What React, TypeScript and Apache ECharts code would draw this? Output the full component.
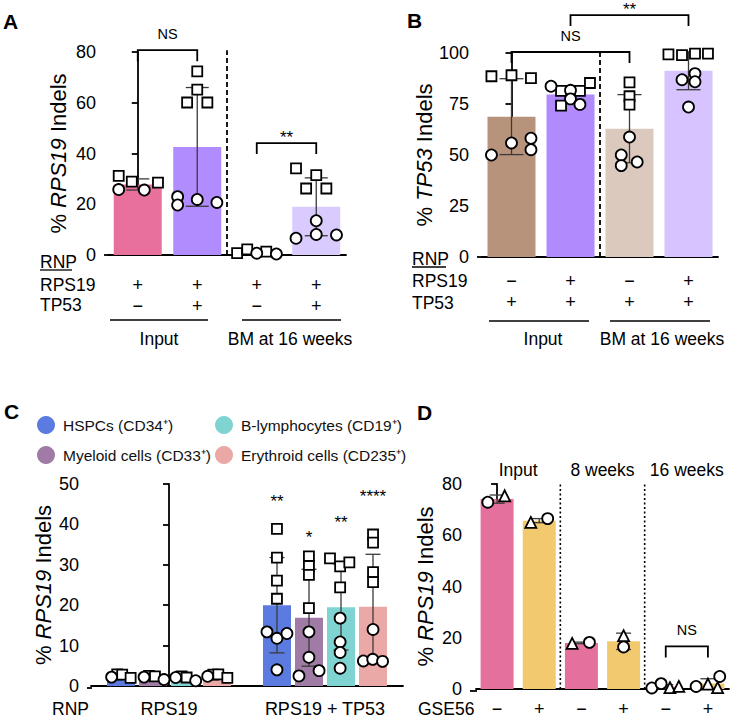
import React, { useEffect, useRef } from "react";
import * as echarts from "echarts";

const FONT = "'Liberation Sans', Arial, Helvetica, sans-serif";
const INK = "#000";

// ---------------- Panel A ----------------
const aCategories = ["Input RPS19", "Input RPS19+TP53", "BM RPS19", "BM RPS19+TP53"];
const aRps19Row = ["+", "+", "+", "+"];
const aTp53Row = ["−", "+", "−", "+"];
const aMeans = [27.8, 42.6, 1.1, 19.0];
const aSD = [2.2, 23.4, 0.7, 11.4];
const aColors = ["#E8709D", "#B08CFE", "#F4C3D6", "#DACBFF"];
// [category, jitter, value]
const aSquares = [
  [0, -0.32, 31.2], [0, -0.1, 28.9], [0, 0.34, 28.5],
  [1, 0, 72.4], [1, 0, 65.2], [1, -0.17, 60.1], [1, 0.17, 60.1],
  [2, -0.33, 0.7], [2, -0.16, 2.2], [2, 0.16, 1.3],
  [3, -0.34, 34.1], [3, 0, 31.5], [3, -0.17, 26.2], [3, 0.17, 26.2],
];
const aCircles = [
  [0, -0.32, 25.8], [0, 0.11, 25.6],
  [1, -0.33, 23.0], [1, -0.33, 19.7], [1, 0, 21.9], [1, 0.33, 20.7],
  [2, 0, 0.7], [2, 0.33, 0.4],
  [3, 0, 13.5], [3, -0.34, 6.6], [3, 0, 8.1], [3, 0.34, 7.9],
];
const aBrackets = [
  { from: 0, to: 1, y: 80.7, label: "NS" },
  { from: 2, to: 3, y: 44.1, label: "**" },
];
const aSeparators = [1.5];
const aSeparatorTop = 80.7;

// ---------------- Panel B ----------------
const bCategories = ["Input TP53", "Input RPS19+TP53", "BM TP53", "BM RPS19+TP53"];
const bRps19Row = ["−", "+", "−", "+"];
const bTp53Row = ["+", "+", "+", "+"];
const bMeans = [68.8, 79.7, 62.9, 91.3];
const bSD = [18.6, 4.0, 16.7, 9.3];
const bColors = ["#B8937B", "#B18BFE", "#DCC9BD", "#D6C3FF"];
const bSquares = [
  [0, -0.34, 88.6], [0, 0, 89.1], [0, 0.33, 87.7],
  [1, -0.16, 81.4], [1, 0.16, 81.4], [1, 0.33, 85.3], [1, -0.16, 74.2],
  [2, 0, 85.6], [2, 0, 78.8], [2, 0, 74.7],
  [3, -0.34, 99.3], [3, -0.11, 99.0], [3, 0.11, 99.7], [3, 0.33, 99.7],
];
const bCircles = [
  [0, 0, 55.9], [0, 0.33, 58.2], [0, 0.33, 52.6], [0, -0.34, 50.0],
  [1, -0.33, 83.7], [1, 0, 81.7], [1, 0, 77.5], [1, 0.16, 74.8],
  [2, 0, 58.8], [2, -0.14, 50.0], [2, -0.14, 44.8], [2, 0.13, 46.6],
  [3, -0.11, 86.9], [3, 0.11, 89.9], [3, 0.11, 85.9], [3, 0, 73.5],
];
const bBrackets = [
  { from: 0, to: 2, y: 100.5, label: "NS" },
  { from: 1, to: 3, y: 118.6, label: "**" },
];
const bSeparators = [1.5];
const bSeparatorTop = 100.5;

// ---------------- Panel C ----------------
const cCategories = ["RPS19", "RPS19 + TP53"];
const cCellTypes = ["HSPCs (CD34⁺)", "Myeloid cells (CD33⁺)", "B-lymphocytes (CD19⁺)", "Erythroid cells (CD235⁺)"];
const cColors = ["#5B7BE0", "#A07BA6", "#7FD4D2", "#EAA9A6"];
const cMeans = [[2.1, 20.0], [2.0, 16.9], [1.8, 19.5], [2.2, 19.6]];
const cSD = [[0.4, 11.8], [0.4, 12.0], [0.4, 10.6], [0.4, 13.0]];
const cStars = ["**", "*", "**", "****"];
const cStarY = [45.6, 36.8, 40.4, 46.8];
// [category, offset from group centre, value]
const cSquares = [
  [[0, -0.332, 2.9], [0, -0.3, 2.8], [0, -0.246, 2.0], [1, -0.308, 38.9], [1, -0.308, 31.8], [1, -0.308, 26.1], [1, -0.308, 21.6]],
  [[0, -0.128, 2.5], [0, -0.09, 2.4], [1, -0.103, 32.1], [1, -0.103, 29.7], [1, -0.103, 27.5], [1, -0.103, 19.3]],
  [[0, 0.081, 2.4], [0, 0.113, 2.1], [1, 0.032, 31.6], [1, 0.097, 29.6], [1, 0.156, 30.6], [1, 0.097, 24.4]],
  [[0, 0.284, 2.8], [0, 0.316, 2.9], [0, 0.374, 2.0], [1, 0.308, 37.5], [1, 0.308, 35.5], [1, 0.308, 28.2], [1, 0.308, 25.7]],
];
const cCircles = [
  [[0, -0.368, 2.2], [1, -0.372, 13.4], [1, -0.308, 11.8], [1, -0.244, 13.0], [1, -0.308, 4.0]],
  [[0, -0.16, 2.2], [0, -0.032, 1.6], [1, -0.103, 13.4], [1, -0.103, 7.1], [1, -0.167, 2.5], [1, -0.038, 3.8]],
  [[0, 0.043, 2.1], [0, 0.171, 1.3], [1, 0.097, 16.8], [1, 0.097, 10.9], [1, 0.097, 8.3], [1, 0.097, 4.4]],
  [[0, 0.248, 2.4], [1, 0.308, 14.0], [1, 0.246, 6.2], [1, 0.306, 6.6], [1, 0.369, 6.1]],
];

// ---------------- Panel D ----------------
const dCategories = ["Input −", "Input +", "8 weeks −", "8 weeks +", "16 weeks −", "16 weeks +"];
const dGse56Row = ["−", "+", "−", "+", "−", "+"];
const dHeaders = ["Input", "8 weeks", "16 weeks"];
const dMeans = [74.1, 65.7, 18.0, 18.6, 0.9, 2.1];
const dSD = [1.6, 0.8, 0.3, 3.2, 0.8, 1.9];
const dColors = ["#E4719D", "#F2C96E", "#E4719D", "#F2C96E", "#E4719D", "#F2C96E"];
const dCircles = [
  [0, -0.22, 72.9], [1, 0.2, 66.5], [2, 0.19, 18.2], [3, 0, 16.4],
  [4, -0.33, 0.4], [4, -0.11, 2.1], [5, -0.28, 1.0], [5, 0.28, 4.9],
];
const dTriangles = [
  [0, 0.18, 75.4], [1, -0.2, 65.0], [2, -0.22, 17.8], [3, 0, 20.8],
  [4, 0.1, 0.5], [4, 0.31, 1.0], [5, 0, 1.9], [5, 0.23, 0.5],
];
const dBrackets = [{ from: 4, to: 5, y: 16.6, label: "NS" }];
const dSeparators = [1.5, 3.5];
const dSeparatorTop = 80;
const dHeaderY = 85.4;

const C_BAR_W = 28;
const C_BAR_GAP = 4;

const richName = {
  n: { fontSize: 22, fontFamily: FONT, color: INK },
  i: { fontSize: 22, fontFamily: FONT, color: INK, fontStyle: "italic" },
};

function yAxis(g: number, max: number, interval: number, gene: string, offset: number, nameGap: number) {
  return {
    type: "value", gridIndex: g, min: 0, max, interval, offset,
    axisLine: { show: true, lineStyle: { color: INK, width: 1.8 } },
    axisTick: { show: true, length: 6, lineStyle: { color: INK, width: 1.8 } },
    axisLabel: { color: INK, fontSize: 18, fontFamily: FONT, margin: 8 },
    splitLine: { show: false },
    name: `{n|% }{i|${gene}}{n| Indels}`,
    nameLocation: "middle", nameGap, nameRotate: 90,
    nameTextStyle: { fontSize: 22, fontFamily: FONT, color: INK, rich: richName },
  };
}

function xCat(g: number, data: string[], formatter: any, margin: number, tickLen: number) {
  return {
    type: "category", gridIndex: g, data, boundaryGap: true,
    axisLine: { lineStyle: { color: INK, width: 1.8 } },
    axisTick: { alignWithLabel: true, length: tickLen, lineStyle: { color: INK, width: 1.8 } },
    axisLabel: { interval: 0, formatter, color: INK, fontSize: 18, lineHeight: 21, fontFamily: FONT, margin },
    splitLine: { show: false },
  };
}

function xVal(g: number, n: number) {
  return { type: "value", gridIndex: g, min: -0.5, max: n - 0.5, show: false };
}

function pts(xIdx: number, yIdx: number, arr: number[][], symbol: string, size: number) {
  return {
    type: "scatter", xAxisIndex: xIdx, yAxisIndex: yIdx, symbol, symbolSize: size,
    data: arr.map(([c, j, v]) => [c + j, v]),
    itemStyle: { color: "#fff", borderColor: INK, borderWidth: 1.8, opacity: 1 },
    z: 5, silent: true,
  };
}

function errBars(xIdx: number, yIdx: number, means: number[], sds: number[], capHalf: number, pxOffset = 0) {
  return {
    type: "custom", xAxisIndex: xIdx, yAxisIndex: yIdx, z: 4, silent: true, clip: false,
    data: means.map((m, i) => [i, Math.max(0, m - sds[i]), m + sds[i]]),
    renderItem: (params: any, api: any) => {
      const x = api.value(0);
      const hi = api.coord([x, api.value(2)]);
      const lo = api.coord([x, api.value(1)]);
      const cx = hi[0] + pxOffset;
      const st = { stroke: "#3a3a3a", lineWidth: 1.3 };
      return {
        type: "group",
        children: [
          { type: "line", shape: { x1: cx, y1: hi[1], x2: cx, y2: lo[1] }, style: st },
          { type: "line", shape: { x1: cx - capHalf, y1: hi[1], x2: cx + capHalf, y2: hi[1] }, style: st },
          { type: "line", shape: { x1: cx - capHalf, y1: lo[1], x2: cx + capHalf, y2: lo[1] }, style: st },
        ],
      };
    },
  };
}

function brackets(xIdx: number, yIdx: number, list: { from: number; to: number; y: number; label: string }[], drop: number) {
  return {
    type: "custom", xAxisIndex: xIdx, yAxisIndex: yIdx, z: 6, silent: true, clip: false,
    data: list.map((b) => [b.from, b.to, b.y]),
    encode: { x: [0, 1], y: 2 },
    renderItem: (params: any, api: any) => {
      const b = list[params.dataIndex];
      const p1 = api.coord([api.value(0), api.value(2)]);
      const p2 = api.coord([api.value(1), api.value(2)]);
      const star = b.label.startsWith("*");
      return {
        type: "group",
        children: [
          {
            type: "polyline",
            shape: { points: [[p1[0], p1[1] + drop], [p1[0], p1[1]], [p2[0], p2[1]], [p2[0], p2[1] + drop]] },
            style: { stroke: INK, lineWidth: 1.8, fill: null },
          },
          {
            type: "text", x: (p1[0] + p2[0]) / 2, y: p1[1] - (star ? 6 : 16),
            style: { text: b.label, fill: INK, fontSize: star ? 17 : 14.5, fontFamily: FONT, align: "center", verticalAlign: "middle" },
          },
        ],
      };
    },
  };
}

function separators(xIdx: number, yIdx: number, xs: number[], top: number, dash: number[], width: number) {
  return {
    type: "custom", xAxisIndex: xIdx, yAxisIndex: yIdx, z: 3, silent: true, clip: false,
    data: xs.map((x) => [x, top]),
    renderItem: (params: any, api: any) => {
      const a = api.coord([api.value(0), 0]);
      const b = api.coord([api.value(0), api.value(1)]);
      return {
        type: "line",
        shape: { x1: a[0], y1: a[1], x2: b[0], y2: b[1] },
        style: { stroke: INK, lineWidth: width, lineDash: dash },
      };
    },
  };
}

function textAt(xIdx: number, yIdx: number, texts: string[], xs: number[], ys: number[], size: number, pxOffsets?: number[]) {
  return {
    type: "custom", xAxisIndex: xIdx, yAxisIndex: yIdx, z: 6, silent: true, clip: false,
    data: texts.map((t, i) => [xs[i], ys[i]]),
    renderItem: (params: any, api: any) => {
      const p = api.coord([api.value(0), api.value(1)]);
      const off = pxOffsets ? pxOffsets[params.dataIndex] : 0;
      return {
        type: "text", x: p[0] + off, y: p[1],
        style: { text: texts[params.dataIndex], fill: INK, fontSize: size, fontFamily: FONT, align: "center", verticalAlign: "middle" },
      };
    },
  };
}

function gText(x: number, y: number, text: string, size = 17.5, align = "left", weight = "normal") {
  return {
    type: "text", x, y, silent: true,
    style: { text, fill: INK, fontSize: size, fontFamily: FONT, fontWeight: weight, align, verticalAlign: "middle" },
  };
}
function gLine(x1: number, y1: number, x2: number, y2: number, w = 1.5) {
  return { type: "line", silent: true, shape: { x1, y1, x2, y2 }, style: { stroke: INK, lineWidth: w } };
}

function buildOption() {
  const cOffsets = cCellTypes.map((_, s) => (s - 1.5) * (C_BAR_W + C_BAR_GAP));
  const series: any[] = [];

  // A
  series.push({
    type: "bar", xAxisIndex: 0, yAxisIndex: 0, barWidth: 48, z: 2, silent: true,
    data: aMeans.map((v, i) => ({ value: v, itemStyle: { color: aColors[i] } })),
  });
  series.push(errBars(1, 0, aMeans, aSD, 11.5));
  series.push(pts(1, 0, aSquares, "rect", 10));
  series.push(pts(1, 0, aCircles, "circle", 11));
  series.push(brackets(1, 0, aBrackets, 11));
  series.push(separators(1, 0, aSeparators, aSeparatorTop, [5, 3], 1.8));

  // B
  series.push({
    type: "bar", xAxisIndex: 2, yAxisIndex: 1, barWidth: 48, z: 2, silent: true,
    data: bMeans.map((v, i) => ({ value: v, itemStyle: { color: bColors[i] } })),
  });
  series.push(errBars(3, 1, bMeans, bSD, 12));
  series.push(pts(3, 1, bSquares, "rect", 10));
  series.push(pts(3, 1, bCircles, "circle", 11));
  series.push(brackets(3, 1, bBrackets, 11));
  series.push(separators(3, 1, bSeparators, bSeparatorTop, [5, 3], 1.8));

  // C
  cCellTypes.forEach((name, s) => {
    series.push({
      type: "bar", name, xAxisIndex: 4, yAxisIndex: 2, barWidth: C_BAR_W,
      barGap: `${(C_BAR_GAP / C_BAR_W) * 100}%`, z: 2, silent: true,
      itemStyle: { color: cColors[s] },
      data: cMeans[s],
    });
  });
  cCellTypes.forEach((_, s) => {
    series.push(errBars(5, 2, cMeans[s], cSD[s], 7.5, cOffsets[s]));
  });
  cCellTypes.forEach((_, s) => {
    series.push(pts(5, 2, cSquares[s], "rect", 10));
    series.push(pts(5, 2, cCircles[s], "circle", 11));
  });
  series.push(textAt(5, 2, cStars, cStars.map(() => 1), cStarY, 17, cOffsets));

  // D
  series.push({
    type: "bar", xAxisIndex: 6, yAxisIndex: 3, barWidth: 33, z: 2, silent: true,
    data: dMeans.map((v, i) => ({ value: v, itemStyle: { color: dColors[i] } })),
  });
  series.push(errBars(7, 3, dMeans, dSD, 7.5));
  series.push(pts(7, 3, dCircles, "circle", 11));
  series.push(pts(7, 3, dTriangles, "triangle", 11));
  series.push(brackets(7, 3, dBrackets, 11));
  series.push(separators(7, 3, dSeparators, dSeparatorTop, [2, 2.5], 1.6));
  series.push(textAt(7, 3, dHeaders, dHeaders.map((_, i) => 2 * i + 0.5), dHeaders.map(() => dHeaderY), 17.5));

  const graphic: any[] = [
    gText(3, 21, "A", 21, "left", "bold"),
    gText(407, 20, "B", 21, "left", "bold"),
    gText(4, 411, "C", 21, "left", "bold"),
    gText(417, 412, "D", 21, "left", "bold"),
    // A rows
    gText(40, 262, "RNP"), gLine(40, 270, 72, 270, 1.3),
    gText(40, 285, "RPS19"), gText(40, 305, "TP53"),
    gLine(110, 320, 208, 320), gLine(242, 320, 341, 320),
    gText(159, 339, "Input", 17.5, "center"), gText(290, 339, "BM at 16 weeks", 17.5, "center"),
    // B rows
    gText(412, 259, "RNP"), gLine(412, 267, 446, 267, 1.3),
    gText(412, 281, "RPS19"), gText(412, 303, "TP53"),
    gLine(489, 321, 589, 321), gLine(610, 321, 710, 321),
    gText(543, 339, "Input", 17.5, "center"), gText(662, 339, "BM at 16 weeks", 17.5, "center"),
    // C / D row labels
    gText(52, 709, "RNP"),
    gText(418, 709, "GSE56"),
    // axis corner joins
    gLine(104, 255, 109, 255, 1.8), gLine(477, 257, 483, 257, 1.8),
    gLine(87, 688, 92, 688, 1.8), gLine(470, 691, 477, 691, 1.8),
  ];

  const legendText = { fontSize: 15.5, fontFamily: FONT, color: "#111", padding: [0, 0, 0, 3] };

  return {
    animation: false,
    backgroundColor: "#fff",
    textStyle: { fontFamily: FONT },
    grid: [
      { left: 108, top: 52, width: 238, height: 203 },
      { left: 482, top: 53, width: 236, height: 204 },
      { left: 91, top: 484, width: 312, height: 204 },
      { left: 476, top: 484, width: 253, height: 207 },
    ],
    xAxis: [
      xCat(0, aCategories, (v: string, i: number) => `${aRps19Row[i]}\n${aTp53Row[i]}`, 19, 7),
      xVal(0, aCategories.length),
      xCat(1, bCategories, (v: string, i: number) => `${bRps19Row[i]}\n${bTp53Row[i]}`, 13, 7),
      xVal(1, bCategories.length),
      xCat(2, cCategories, (v: string) => v, 12, 7),
      xVal(2, cCategories.length),
      xCat(3, dCategories, (v: string, i: number) => dGse56Row[i], 9, 8),
      xVal(3, dCategories.length),
    ],
    yAxis: [
      yAxis(0, 80, 20, "RPS19", 4, 35),
      yAxis(1, 100, 25, "TP53", 5, 39),
      yAxis(2, 50, 10, "RPS19", 4, 33),
      yAxis(3, 80, 20, "RPS19", 6, 34),
    ],
    legend: [
      {
        data: [cCellTypes[0], cCellTypes[1]], orient: "vertical", left: 32, top: 411,
        itemWidth: 18, itemHeight: 18, itemGap: 12, icon: "circle", selectedMode: false,
        textStyle: legendText,
      },
      {
        data: [cCellTypes[2], cCellTypes[3]], orient: "vertical", left: 210, top: 411,
        itemWidth: 18, itemHeight: 18, itemGap: 12, icon: "circle", selectedMode: false,
        textStyle: legendText,
      },
    ],
    graphic,
    series,
  };
}

export default function App() {
  const ref = useRef<HTMLDivElement>(null);
  useEffect(() => {
    if (!ref.current) return;
    const chart = echarts.init(ref.current, null, { renderer: "svg" });
    chart.setOption(buildOption() as any);
    return () => chart.dispose();
  }, []);
  return (
    <div
      ref={ref}
      style={{ position: "absolute", left: 0, top: 0, width: 734, height: 719, background: "#fff" }}
    />
  );
}
